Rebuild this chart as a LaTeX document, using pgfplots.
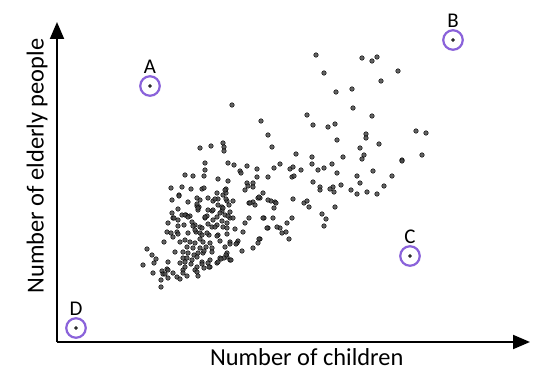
\documentclass[border=0pt]{standalone}
\usepackage{pgfplots}
\pgfplotsset{compat=1.18}
\usepackage{pgfplotstable}
\usetikzlibrary{arrows.meta}
\usepackage{fontspec}
\setmainfont{Carlito}
\definecolor{ptgray}{RGB}{70,70,70}
\definecolor{circpurple}{RGB}{138,98,218}
\pgfplotstableread{
px py
316 55
362 58
372 61
377 57
324 73
398 71
381 81
336 92
352 89
353 108
307 115
372 116
313 125
328 127
335 124
416 131
426 133
337 140
366 134
366 138
379 144
360 148
272 147
232 105
261 121
268 135
200 148
211 146
223 143
224 147
224 151
364 155
362 159
422 155
402 160
402 161
296 154
312 157
312 164
332 164
343 157
280 164
274 168
290 169
293 167
301 170
318 170
324 168
337 173
373 171
292 177
294 176
357 176
392 176
313 182
320 187
320 190
333 187
330 189
334 192
341 185
360 183
384 186
351 190
357 194
367 192
377 194
271 201
275 202
274 208
293 199
304 203
307 201
309 207
335 207
322 214
326 219
292 218
287 223
280 228
324 226
268 177
263 193
260 198
268 200
264 218
268 228
286 232
282 233
289 239
260 239
205 163
205 170
228 163
234 165
247 166
257 169
240 171
241 173
185 175
193 176
204 176
218 179
228 181
257 177
247 183
253 183
248 186
253 187
245 190
258 198
171 188
182 187
191 189
202 189
204 188
226 189
217 193
223 195
226 193
179 195
172 200
188 202
200 200
208 198
213 201
218 199
227 201
233 201
249 203
253 202
255 205
276 203
197 206
199 207
208 210
218 205
222 207
229 205
178 209
172 213
182 215
186 215
190 216
198 210
207 216
212 211
222 211
225 215
230 212
230 218
173 218
178 220
192 222
205 218
213 220
217 217
222 221
233 218
245 223
249 218
263 218
273 218
168 223
178 226
184 225
195 225
200 227
208 224
212 227
217 225
223 227
227 223
235 229
243 232
267 228
277 227
167 232
171 233
177 232
178 234
188 233
196 232
200 233
202 235
209 235
218 235
227 234
173 237
164 242
180 242
185 240
190 242
195 243
200 239
203 242
210 243
220 241
230 242
238 241
259 239
258 243
187 247
193 248
200 248
206 247
212 248
225 247
230 244
237 243
147 249
175 252
183 252
188 253
194 255
198 253
203 253
212 252
227 253
242 251
253 248
152 255
183 258
187 258
192 260
197 257
202 262
210 260
220 258
227 257
230 260
226 255
156 259
154 263
168 262
180 263
185 262
191 264
197 267
202 264
208 263
210 267
217 263
143 265
162 271
167 269
168 270
183 270
185 267
195 270
197 272
153 273
163 274
173 273
183 273
187 276
198 276
161 280
168 278
177 277
180 279
161 287
259 197
250 203
215 199
225 190
226 199
223 208
220 213
213 210
205 217
228 216
202 228
215 227
227 228
207 233
179 196
197 204
198 208
197 198
174 218
185 215
188 217
193 226
195 230
204 251
224 258
221 259
231 260
218 262
204 268
209 267
236 244
217 236
165 274
}\scatterdata
\pgfplotstableread{
px py lab
150 86 A
453 40 B
410 256 C
76 328 D
}\specialdata
\begin{document}
\begin{tikzpicture}
\useasboundingbox (-57bp,-49bp) rectangle (489bp,342bp);
\begin{axis}[
  scale only axis,
  width=473bp, height=320bp,
  xmin=57, xmax=530, ymin=49, ymax=369,
  axis lines=left,
  axis line style={line width=2pt, -{Triangle[length=17bp,width=14bp]}},
  xtick=\empty, ytick=\empty,
  xlabel={Number of children},
  ylabel={Number of elderly people},
  label style={font=\fontsize{24.5}{28}\selectfont},
  xlabel style={at={(axis description cs:0.528,-0.047)}, anchor=center},
  ylabel style={at={(axis description cs:-0.042,0.55)}, anchor=center},
  clip=false,
]
\addplot[only marks, mark=*, mark size=2.3pt,
  mark options={draw=none, fill=ptgray, fill opacity=0.85}]
  table[x=px, y expr=391-\thisrow{py}] {\scatterdata};
\addplot[only marks, mark=*, mark size=1.5pt,
  mark options={draw=none, fill=ptgray}]
  table[x=px, y expr=391-\thisrow{py}] {\specialdata};
\addplot[only marks, mark=o, mark size=9.8pt,
  mark options={draw=circpurple, line width=2.2pt},
  nodes near coords, point meta=explicit symbolic,
  nodes near coords style={anchor=south, yshift=8pt, text=black, font=\fontsize{21}{24}\selectfont}]
  table[x=px, y expr=391-\thisrow{py}, meta=lab] {\specialdata};
\end{axis}
\end{tikzpicture}
\end{document}
